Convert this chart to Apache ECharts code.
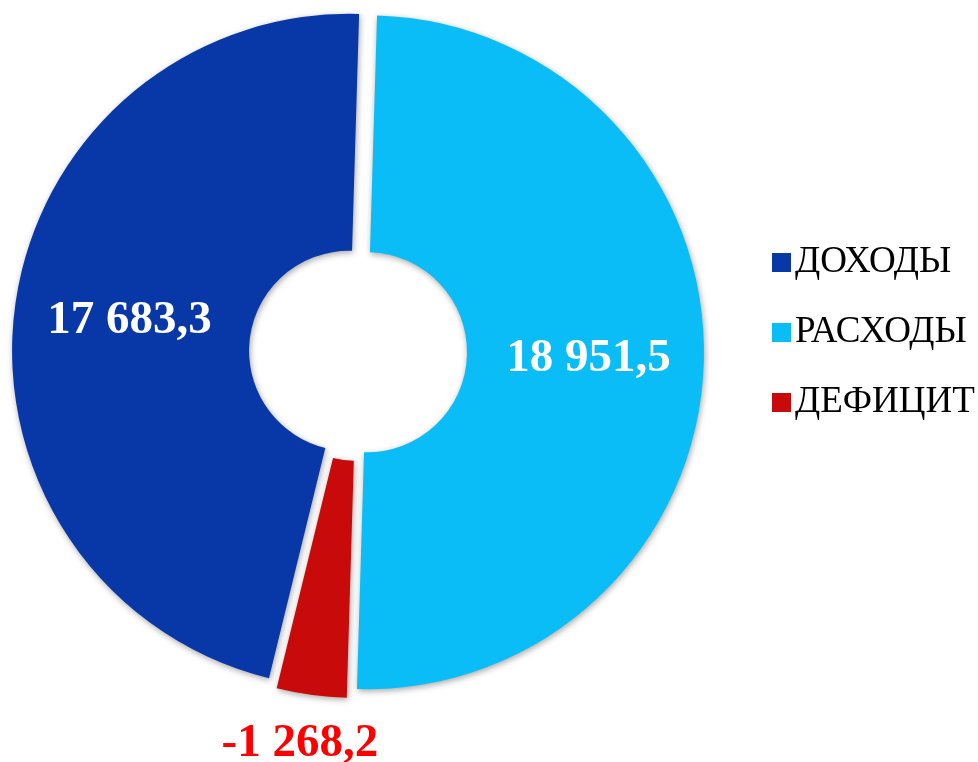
<!DOCTYPE html>
<html>
<head>
<meta charset="utf-8">
<script src="https://cdn.jsdelivr.net/npm/echarts@6/dist/echarts.min.js"></script>
<style>
html,body{margin:0;padding:0;background:#fff;}
#chart{width:978px;height:762px;}
</style>
</head>
<body>
<div id="chart"></div>
<script>
// Data
const categories = ['ДОХОДЫ', 'РАСХОДЫ', 'ДЕФИЦИТ'];
const values = [17683.3, 18951.5, -1268.2];
const colors = ['#0838A8', '#0BBDF6', '#C80A0A'];
const labelColors = ['#FFFFFF', '#FFFFFF', '#FF0000'];

function fmt(v) {
  const parts = Math.abs(v).toFixed(1).split('.');
  const intPart = parts[0].replace(/\B(?=(\d{3})+(?!\d))/g, ' ');
  return (v < 0 ? '-' : '') + intPart + ',' + parts[1];
}

const pieData = categories.map((name, i) => ({
  name: name,
  value: Math.abs(values[i]),
  signed: values[i],
  selected: true,
  itemStyle: { color: colors[i] },
  label: values[i] < 0
    ? { position: 'outside', color: labelColors[i] }
    : { position: 'inside', color: labelColors[i] },
  labelLine: values[i] < 0
    ? { show: false, length: 49, length2: 0 }
    : { show: false }
}));

const chart = echarts.init(document.getElementById('chart'), null, { renderer: 'canvas' });
chart.setOption({
  animation: false,
  backgroundColor: '#ffffff',
  legend: {
    orient: 'vertical',
    left: 767,
    top: 239,
    itemWidth: 19,
    itemHeight: 19,
    itemGap: 33,
    icon: 'rect',
    selectedMode: false,
    data: categories,
    textStyle: {
      fontFamily: '"Liberation Serif", "Times New Roman", serif',
      fontSize: 37,
      color: '#000000',
      padding: [0, 0, 0, -1]
    }
  },
  series: [{
    type: 'pie',
    center: [358, 352],
    radius: [100, 337],
    startAngle: 256.25,
    clockwise: true,
    selectedMode: 'multiple',
    selectedOffset: 9,
    avoidLabelOverlap: false,
    emphasis: { disabled: true },
    itemStyle: {
      shadowColor: 'rgba(0,0,0,0.35)',
      shadowBlur: 6,
      shadowOffsetX: 1,
      shadowOffsetY: 2
    },
    label: {
      show: true,
      fontFamily: '"Liberation Serif", "Times New Roman", serif',
      fontWeight: 'bold',
      fontSize: 47,
      formatter: p => fmt(p.data.signed)
    },
    labelLayout: function (params) {
      if (values[params.dataIndex] < 0) {
        return { align: 'center' };
      }
      return {};
    },
    data: pieData
  }]
});
</script>
</body>
</html>
